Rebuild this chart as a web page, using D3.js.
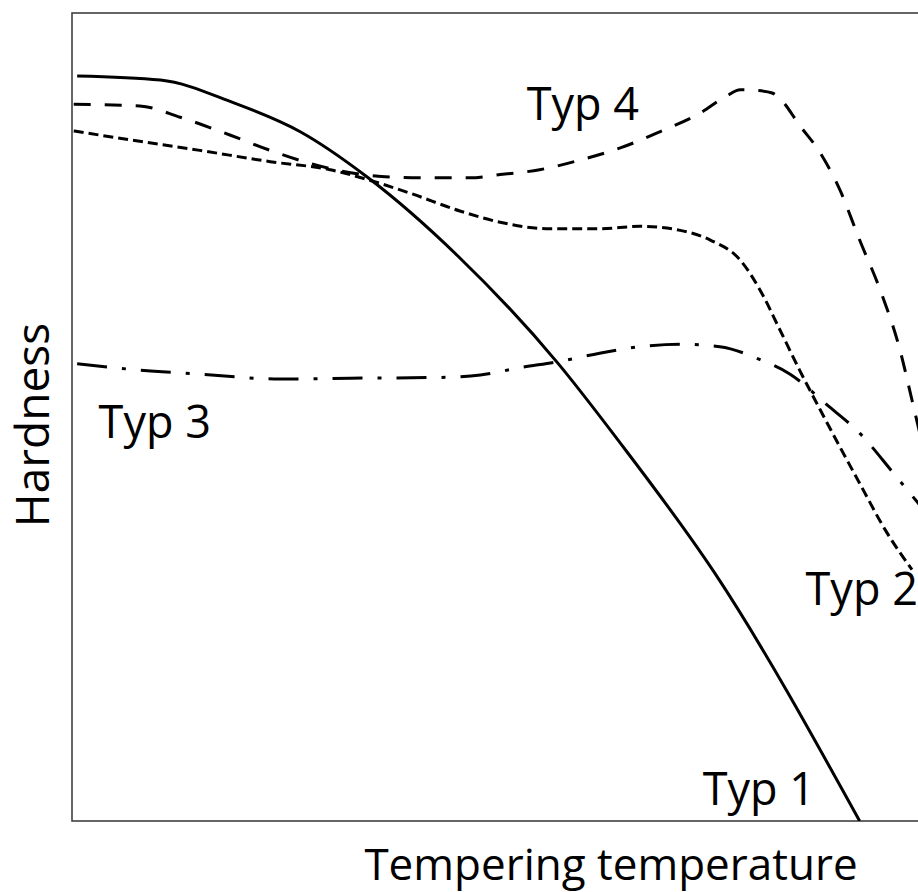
<!DOCTYPE html>
<html>
<head>
<meta charset="utf-8">
<script src="https://cdn.jsdelivr.net/npm/d3@7"></script>
<style>
  html, body { margin: 0; padding: 0; background: #fff; }
  text { font-family: "Open Sans", "Noto Sans", sans-serif; fill: #000; }
</style>
</head>
<body>
<main></main>
<script>
const WIDTH = 918;
const HEIGHT = 892;

// relative tempering temperature (0-100) vs relative hardness (0-100)
const typ1 = [[0.6, 92.2], [10.3, 91.7], [18.8, 88.9], [26.6, 85.3], [34.4, 79.7], [45.0, 69.9],
              [56.6, 56.7], [63.6, 47.2], [74.9, 30.7], [91.8, 0]];

const typ2 = [[0.2, 85.4], [6.8, 84.3], [14.9, 83.0], [23.1, 81.6], [30.1, 80.6], [34.7, 79.3],
              [39.4, 77.7], [45.2, 75.5], [49.9, 74.1], [55.7, 73.3], [61.5, 73.3], [66.2, 73.6],
              [70.9, 73.1], [74.4, 71.9], [77.9, 69.4], [80.2, 65.7], [82.5, 60.8], [84.8, 55.8],
              [87.2, 50.9], [89.5, 46.3], [91.8, 41.8], [94.8, 36.0], [97.9, 31.1]];

const typ3 = [[0.6, 56.6], [7.9, 55.8], [14.9, 55.3], [24.2, 54.7], [32.4, 54.8], [42.9, 54.9],
              [47.6, 55.2], [52.2, 56.1], [56.9, 56.9], [61.5, 57.9], [66.2, 58.7], [70.9, 59.0],
              [75.5, 58.7], [80.2, 57.1], [83.7, 55.3], [88.0, 51.5], [91.8, 48.0], [95.7, 43.1],
              [98.8, 39.1]];

const typ4 = [[0.2, 88.7], [7.9, 88.5], [12.6, 87.1], [18.4, 84.9], [23.1, 83.0], [27.7, 81.4],
              [34.7, 79.9], [40.6, 79.6], [46.4, 79.6], [49.9, 80.0], [54.5, 80.6], [59.2, 81.8],
              [63.9, 83.3], [68.5, 85.3], [73.2, 87.6], [76.1, 89.6], [77.9, 90.5], [80.0, 90.4],
              [81.6, 90.1], [82.6, 89.3], [84.8, 86.1], [87.2, 82.7], [89.5, 78.1], [91.8, 71.9],
              [94.2, 65.7], [96.5, 58.3], [97.9, 52.1], [99.4, 45.3]];

const seriesNames = ["Typ 1", "Typ 2", "Typ 3", "Typ 4"];
const seriesData = [typ1, typ2, typ3, typ4];
const dashStyles = ["none", "10,5", "30,15,4,15", "17,14"];

// label anchors in data units (left edge, baseline)
const labelAnchors = [[73.5, 2.0], [85.5, 26.7], [3.1, 47.4], [53.0, 86.8]];

const xTitle = "Tempering temperature";
const yTitle = "Hardness";

const plot = { left: 72, top: 13, right: 930, bottom: 821 };

const x = d3.scaleLinear().domain([0, 100]).range([plot.left, plot.right]);
const y = d3.scaleLinear().domain([0, 100]).range([plot.bottom, plot.top]);

const svg = d3.select("main").append("svg")
              .attr("width", WIDTH)
              .attr("height", HEIGHT)
              .style("display", "block");

svg.append("defs").append("clipPath")
   .attr("id", "plot-clip")
   .append("rect")
   .attr("x", plot.left)
   .attr("y", plot.top)
   .attr("width", plot.right - plot.left)
   .attr("height", plot.bottom - plot.top);

// frame
svg.append("rect")
   .attr("x", plot.left)
   .attr("y", plot.top)
   .attr("width", plot.right - plot.left)
   .attr("height", plot.bottom - plot.top)
   .style("fill", "none")
   .style("stroke", "#404040")
   .style("stroke-width", 1.6);

const line = d3.line()
               .x(d => x(d[0]))
               .y(d => y(d[1]))
               .curve(d3.curveMonotoneX);

svg.append("g")
   .attr("clip-path", "url(#plot-clip)")
   .selectAll("path")
   .data(seriesData)
   .join("path")
   .attr("d", line)
   .style("fill", "none")
   .style("stroke", "#000")
   .style("stroke-width", 3)
   .style("stroke-dasharray", (d, i) => dashStyles[i]);

svg.append("g")
   .selectAll("text")
   .data(seriesNames)
   .join("text")
   .attr("x", (d, i) => x(labelAnchors[i][0]))
   .attr("y", (d, i) => y(labelAnchors[i][1]))
   .style("font-size", "45px")
   .text(d => d);

svg.append("text")
   .attr("x", 611)
   .attr("y", 880)
   .attr("text-anchor", "middle")
   .style("font-size", "44px")
   .text(xTitle);

svg.append("text")
   .attr("transform", "translate(49,425) rotate(-90)")
   .attr("text-anchor", "middle")
   .style("font-size", "46px")
   .text(yTitle);
</script>
</body>
</html>
